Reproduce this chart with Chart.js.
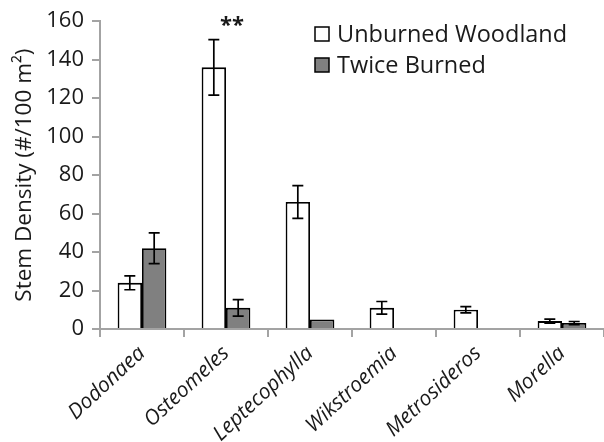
<!DOCTYPE html>
<html>
<head>
<meta charset="utf-8">
<script src="https://cdn.jsdelivr.net/npm/chart.js@4.4.1/dist/chart.umd.min.js"></script>
<style>
html,body{margin:0;padding:0;background:#fff;}
#wrap{width:604px;height:442px;position:relative;}
</style>
</head>
<body>
<div id="wrap"><canvas id="c" width="604" height="442"></canvas></div>
<script>
const categories = ['Dodonaea', 'Osteomeles', 'Leptecophylla', 'Wikstroemia', 'Metrosideros', 'Morella'];
const unburned = [24, 136, 66, 11, 10, 4.1];
const unburnedErr = [3.6, 14.4, 8.5, 3.3, 1.6, 1.0];
const burned = [42, 11, 5, 0, 0, 3.1];
const burnedErr = [8, 4.3, 0, 0, 0, 0.8];
const sigLabels = ['', '**', '', '', '', ''];
const yTicks = [0, 20, 40, 60, 80, 100, 120, 140, 160];
const seriesNames = ['Unburned Woodland', 'Twice Burned'];

const FONT = "'Open Sans', sans-serif";
const TXT = '#1a1a1a';
const AX = '#a3a3a3';

const errorBars = {
  id: 'errorBars',
  afterDatasetsDraw(chart) {
    const ctx = chart.ctx;
    const y = chart.scales.y;
    const errs = [unburnedErr, burnedErr];
    ctx.save();
    ctx.strokeStyle = '#000';
    ctx.lineWidth = 1.7;
    chart.data.datasets.forEach((ds, i) => {
      const meta = chart.getDatasetMeta(i);
      meta.data.forEach((el, j) => {
        const e = errs[i][j];
        if (!e) return;
        const v = ds.data[j];
        const t = y.getPixelForValue(v + e);
        const b = y.getPixelForValue(v - e);
        const cw = 5.5;
        ctx.beginPath();
        ctx.moveTo(el.x, t); ctx.lineTo(el.x, b);
        ctx.moveTo(el.x - cw, t); ctx.lineTo(el.x + cw, t);
        ctx.moveTo(el.x - cw, b); ctx.lineTo(el.x + cw, b);
        ctx.stroke();
      });
    });
    ctx.restore();
  }
};

const annotations = {
  id: 'annotations',
  afterDraw(chart) {
    const ctx = chart.ctx;
    const x = chart.scales.x, y = chart.scales.y;
    ctx.save();
    ctx.fillStyle = TXT;
    ctx.font = "bold 22px " + FONT;
    ctx.textAlign = 'center';
    ctx.textBaseline = 'middle';
    sigLabels.forEach((s, j) => {
      if (!s) return;
      ctx.fillText(s, x.getPixelForValue(j) + 6, y.getPixelForValue(160) + 5);
    });
    // legend
    const lx = 315, ly = [34, 65];
    ctx.font = "23.5px " + FONT;
    ctx.textAlign = 'left';
    chart.data.datasets.forEach((ds, i) => {
      ctx.fillStyle = ds.backgroundColor;
      ctx.fillRect(lx, ly[i] - 7, 14, 14);
      ctx.strokeStyle = '#000';
      ctx.lineWidth = 1.5;
      ctx.strokeRect(lx, ly[i] - 7, 14, 14);
      ctx.fillStyle = TXT;
      ctx.fillText(ds.label, lx + 22, ly[i] + 1);
    });
    ctx.restore();
  }
};

new Chart(document.getElementById('c'), {
  type: 'bar',
  data: {
    labels: categories,
    datasets: [
      { label: seriesNames[0], data: unburned, backgroundColor: '#ffffff', borderColor: '#000000', borderWidth: 1.8, borderSkipped: 'bottom' },
      { label: seriesNames[1], data: burned, backgroundColor: '#808080', borderColor: '#000000', borderWidth: 1.8, borderSkipped: 'bottom' }
    ]
  },
  options: {
    responsive: false,
    animation: false,
    devicePixelRatio: 1,
    layout: { padding: { top: 20, right: 0, left: 0, bottom: 0 } },
    plugins: { legend: { display: false }, tooltip: { enabled: false } },
    datasets: { bar: { categoryPercentage: 0.58, barPercentage: 1.0 } },
    scales: {
      x: {
        grid: { display: true, drawOnChartArea: false, drawTicks: true, tickLength: 8, color: AX, offset: true, lineWidth: 2 },
        border: { display: true, color: AX, width: 2 },
        ticks: {
          color: TXT, font: { family: FONT, size: 21, style: 'italic' },
          maxRotation: 43, minRotation: 43, padding: 4
        },
        afterFit(s) { s.height = 113; }
      },
      y: {
        min: 0, max: 160,
        afterBuildTicks(s) { s.ticks = yTicks.map(v => ({ value: v })); },
        grid: { display: true, drawOnChartArea: false, drawTicks: true, tickLength: 8, color: AX, lineWidth: 2 },
        border: { display: true, color: AX, width: 2 },
        ticks: { color: TXT, font: { family: FONT, size: 22 }, padding: 8 },
        title: { display: true, text: 'Stem Density (#/100 m²)', color: TXT, font: { family: FONT, size: 22.5 }, padding: { top: 11, bottom: 4 } },
        afterFit(s) { s.width = 100; }
      }
    }
  },
  plugins: [errorBars, annotations]
});
</script>
</body>
</html>
